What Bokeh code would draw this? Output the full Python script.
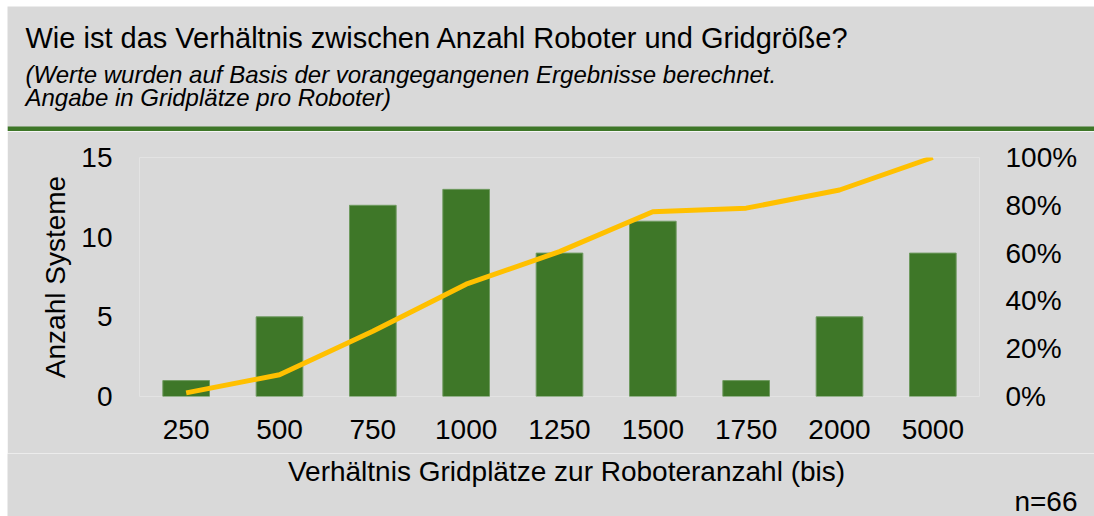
from bokeh.plotting import figure
from bokeh.layouts import column, row
from bokeh.models import (Range1d, FactorRange, LinearAxis, FixedTicker,
                          PrintfTickFormatter, Label, BoxAnnotation, Spacer)
from bokeh.embed import file_html
from bokeh.resources import INLINE

# ---- data ----
categories = ["250", "500", "750", "1000", "1250", "1500", "1750", "2000", "5000"]
anzahl_systeme = [1, 5, 12, 13, 9, 11, 1, 5, 9]
kumuliert_pct = [1.5, 9.1, 27.3, 47.0, 60.6, 77.3, 78.8, 86.4, 100.0]
y_ticks = [0, 5, 10, 15]
pct_ticks = [0, 20, 40, 60, 80, 100]

title_text = "Wie ist das Verhältnis zwischen Anzahl Roboter und Gridgröße?"
subtitle_1 = "(Werte wurden auf Basis der vorangegangenen Ergebnisse berechnet."
subtitle_2 = "Angabe in Gridplätze pro Roboter)"
x_title = "Verhältnis Gridplätze zur Roboteranzahl (bis)"
y_title = "Anzahl Systeme"
n_text = "n=66"

# ---- style ----
FONT = "Liberation Sans"
BG = "#d9d9d9"
GREEN = "#3e7728"
YELLOW = "#ffc000"
TXT = "#000000"
W = 1087
H_HEAD, H_MAIN, H_FOOT = 125, 322, 63


def bare(fig):
    fig.background_fill_color = BG
    fig.border_fill_color = BG
    fig.outline_line_color = None
    fig.xaxis.visible = False
    fig.yaxis.visible = False
    fig.xgrid.visible = False
    fig.ygrid.visible = False


# ---- header ----
head = figure(width=W, height=H_HEAD, x_range=Range1d(0, W), y_range=Range1d(0, H_HEAD),
              output_backend="svg", toolbar_location=None, min_border=0,
              min_border_left=0, min_border_right=0, min_border_top=0, min_border_bottom=0,
              frame_align=False)
bare(head)
head.add_layout(Label(x=18, y=94, x_units="screen", y_units="screen", text=title_text,
                      text_font=FONT, text_font_size="29px", text_color=TXT,
                      text_baseline="alphabetic"))
head.add_layout(Label(x=18, y=57, x_units="screen", y_units="screen", text=subtitle_1,
                      text_font=FONT, text_font_size="24px", text_font_style="italic",
                      text_color=TXT, text_baseline="alphabetic"))
head.add_layout(Label(x=18, y=34, x_units="screen", y_units="screen", text=subtitle_2,
                      text_font=FONT, text_font_size="24px", text_font_style="italic",
                      text_color=TXT, text_baseline="alphabetic"))
head.add_layout(BoxAnnotation(left=0, right=W, bottom=0, top=5,
                              left_units="screen", right_units="screen",
                              top_units="screen", bottom_units="screen",
                              fill_color=GREEN, fill_alpha=1.0, line_color=None))

# ---- main chart ----
p = figure(x_range=FactorRange(factors=categories, range_padding=0),
           y_range=Range1d(0, 15), width=W, height=H_MAIN,
           output_backend="svg", toolbar_location=None,
           min_border_left=132, min_border_right=115,
           min_border_top=26, min_border_bottom=57, frame_align=False)
p.extra_y_ranges = {"pct": Range1d(0, 100)}
p.background_fill_color = BG
p.border_fill_color = BG
p.outline_line_color = None
p.xgrid.grid_line_color = None
p.ygrid.grid_line_color = None

p.vbar(x=categories, top=anzahl_systeme, width=0.5,
       fill_color=GREEN, line_color="#6f9a60", line_width=1)
p.line(x=categories, y=kumuliert_pct, y_range_name="pct",
       line_color=YELLOW, line_width=5)


def style_axis(ax):
    ax.axis_line_color = None
    ax.major_tick_line_color = None
    ax.minor_tick_line_color = None
    ax.major_tick_in = 0
    ax.major_tick_out = 0
    ax.major_label_text_font = FONT
    ax.major_label_text_font_size = "28px"
    ax.major_label_text_color = TXT
    ax.axis_label_text_font = FONT
    ax.axis_label_text_font_size = "28px"
    ax.axis_label_text_font_style = "normal"
    ax.axis_label_text_color = TXT


xa = p.xaxis[0]
style_axis(xa)
xa.major_label_standoff = 23

ya = p.yaxis[0]
style_axis(ya)
ya.ticker = FixedTicker(ticks=y_ticks)
ya.axis_label = y_title
ya.major_label_standoff = 27
ya.axis_label_standoff = 7

ra = LinearAxis(y_range_name="pct", ticker=FixedTicker(ticks=pct_ticks),
                formatter=PrintfTickFormatter(format="%d%%"))
style_axis(ra)
ra.major_label_standoff = 26
p.add_layout(ra, "right")

# ---- footer ----
foot = figure(width=W, height=H_FOOT, x_range=Range1d(0, W), y_range=Range1d(0, H_FOOT),
              output_backend="svg", toolbar_location=None, min_border=0,
              min_border_left=0, min_border_right=0, min_border_top=0, min_border_bottom=0,
              frame_align=False)
bare(foot)
foot.add_layout(Label(x=559, y=45, x_units="screen", y_units="screen", text=x_title,
                      text_font=FONT, text_font_size="28px", text_color=TXT,
                      text_align="center", text_baseline="alphabetic"))
foot.add_layout(Label(x=1070, y=15, x_units="screen", y_units="screen", text=n_text,
                      text_font=FONT, text_font_size="28px", text_color=TXT,
                      text_align="right", text_baseline="alphabetic"))

layout = column(Spacer(height=6),
                row(Spacer(width=7), column(head, p, foot, spacing=0), spacing=0),
                spacing=0)

open("out.html", "w").write(file_html(layout, INLINE))
